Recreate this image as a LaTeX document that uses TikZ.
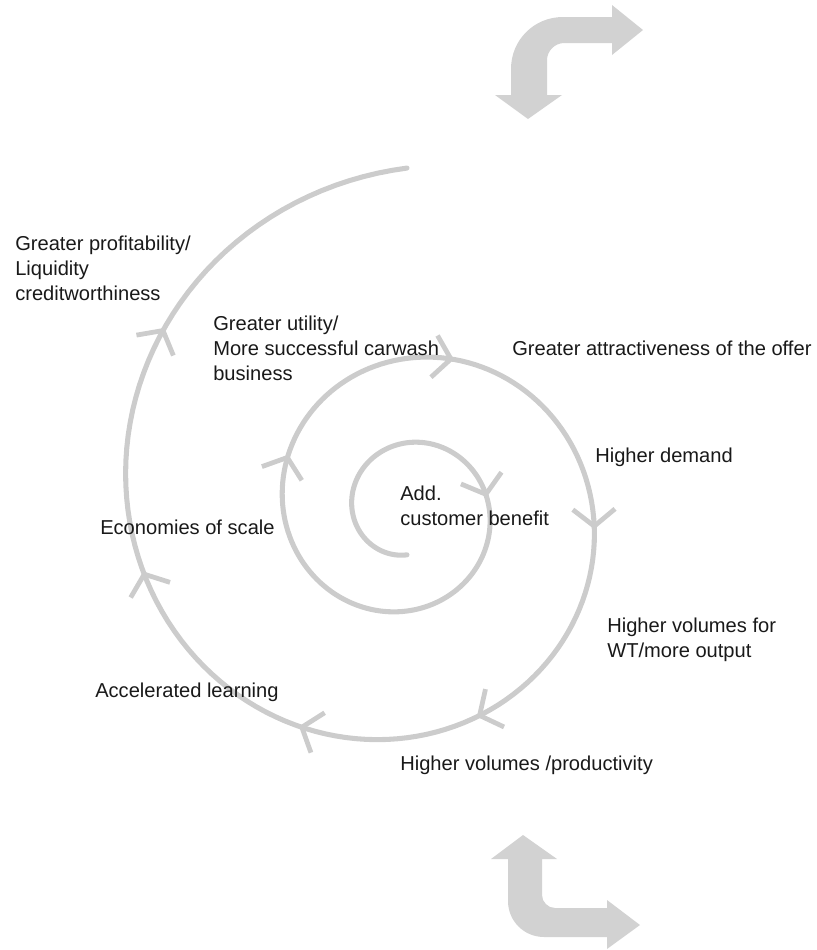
\documentclass[tikz,border=0pt]{standalone}
\usepackage{fontspec}
\setmainfont{Liberation Sans}
\usetikzlibrary{arrows.meta,decorations.markings}

\tikzset{
  spiral/.style={draw=gray!40, line width=3.6pt, line cap=round},
  lbl/.style={anchor=base west, inner sep=0pt, align=left, text=black!90,
    font=\fontsize{14.3}{17.5}\selectfont},
  bent/.style={fill=gray!35},
  barb/.tip={Straight Barb[length=12pt,width=30pt,line width=3.4pt]}
}

\begin{document}
\begin{tikzpicture}[x=0.025cm,y=-0.025cm]
      \useasboundingbox (0,0) rectangle (817,950);

      \fill[bent] (528,119)--(495,95)--(511,95)--(511,69) .. controls (511,40) and (534,17) .. (563,17)
        --(612,17)--(612,5)--(643,30)--(612,55)--(612,43)--(564,43) .. controls (555,43) and (547,51) .. (547,60)
        --(547,95)--(562,95)--cycle;
      \fill[bent] (523,835)--(557,859)--(542,859)--(542,895) .. controls (542,902) and (548,908) .. (555,908)
        --(607,908)--(607,900)--(640,925)--(607,949)--(607,937)--(544,937) .. controls (524,937) and (508,921) .. (508,901)
        --(508,859)--(491,859)--cycle;

      \draw[spiral, postaction={decorate}, decoration={markings,
          mark=at position 0.121 with {\arrow{barb}},
          mark=at position 0.290 with {\arrow{barb}},
          mark=at position 0.380 with {\arrow{barb}},
          mark=at position 0.483 with {\arrow{barb}},
          mark=at position 0.584 with {\arrow{barb}},
          mark=at position 0.663 with {\arrow{barb}},
          mark=at position 0.761 with {\arrow{barb}},
          mark=at position 0.870 with {\arrow{barb}}}]
        plot[domain=0:900, samples=361, variable=\t]
        ({407-44.8*exp(0.0022544*\t)*sin(\t)},{510+44.8*exp(0.0022544*\t)*cos(\t)});

      \node[lbl] (profit) at (15,300) {Greater profitability/\\Liquidity\\creditworthiness};
      \node[lbl] (utility) at (213,380) {Greater utility/\\More successful carwash\\business};
      \node[lbl] (attract) at (512,355) {Greater attractiveness of the offer};
      \node[lbl] (demand) at (595,462) {Higher demand};
      \node[lbl] (benefit) at (400,525) {Add.\\customer benefit};
      \node[lbl] (scale) at (100,534) {Economies of scale};
      \node[lbl] (output) at (607,657) {Higher volumes for\\WT/more output};
      \node[lbl] (learning) at (95,697) {Accelerated learning};
      \node[lbl] (productivity) at (400,770) {Higher volumes /productivity};
    \end{tikzpicture}
\end{document}
